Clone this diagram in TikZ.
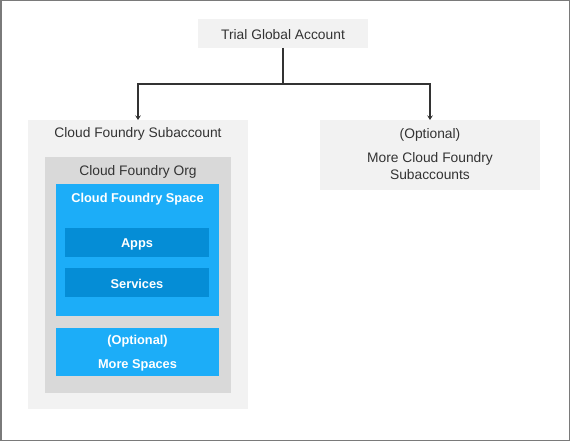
\documentclass[tikz,border=0pt]{standalone}
\usepackage{fontspec}
\setmainfont{Liberation Sans}
\usetikzlibrary{arrows.meta}
\definecolor{frame}{HTML}{7A7A7A}
\definecolor{lightbg}{HTML}{F2F2F2}
\definecolor{orgbg}{HTML}{D9D9D9}
\definecolor{spaceblue}{HTML}{1CADF8}
\definecolor{darkblue}{HTML}{058DD6}
\definecolor{txt}{HTML}{333333}
\definecolor{linec}{HTML}{333333}
\tikzset{
  box/.style={anchor=north west, inner sep=0pt, outer sep=0pt, draw=none},
  graytxt/.style={text=txt, font=\fontsize{13.8}{16}\selectfont, inner sep=0pt, anchor=center, yshift=-1.5pt},
  whitetxt/.style={text=white, font=\fontsize{12.8}{15}\bfseries\selectfont, inner sep=0pt, anchor=center, yshift=-1.2pt},
  conn/.style={draw=linec, line width=1.8pt, -{Stealth[length=4.5pt,width=5.5pt]}},
}
\begin{document}
\begin{tikzpicture}[x=1pt,y=-1pt]
\useasboundingbox (0,0) rectangle (570,441);
\fill[white] (0,0) rectangle (570,441);
\draw[frame, line width=1.5pt] (0.75,0.75) rectangle (569.25,440.25);

% Trial global account
\node[box, fill=lightbg, minimum width=170pt, minimum height=29pt] (tga) at (198,19) {};
\node[graytxt] (tgat) at (283,33.5) {Trial Global Account};

% Subaccount
\node[box, fill=lightbg, minimum width=220pt, minimum height=289pt] (sub) at (28,120) {};
\node[graytxt] (subt) at (138,132) {Cloud Foundry Subaccount};

% More subaccounts
\node[box, fill=lightbg, minimum width=220pt, minimum height=70pt] (more) at (320,120) {};
\node[graytxt] (moret1) at (430,133) {(Optional)};
\node[graytxt] (moret2) at (430,157) {More Cloud Foundry};
\node[graytxt] (moret3) at (430,173) {Subaccounts};

% Org
\node[box, fill=orgbg, minimum width=186pt, minimum height=236pt] (org) at (45,157) {};
\node[graytxt] (orgt) at (138,170) {Cloud Foundry Org};

% Space
\node[box, fill=spaceblue, minimum width=163pt, minimum height=132pt] (space) at (56,184) {};
\node[whitetxt] (spacet) at (137.5,197.5) {Cloud Foundry Space};

\node[box, fill=darkblue, minimum width=144pt, minimum height=29pt] (apps) at (65,228) {};
\node[whitetxt] (appst) at (137,243) {Apps};
\node[box, fill=darkblue, minimum width=144pt, minimum height=29pt] (serv) at (65,268) {};
\node[whitetxt] (servt) at (137,282.5) {Services};

% More spaces
\node[box, fill=spaceblue, minimum width=163pt, minimum height=48pt] (mspace) at (56,328) {};
\node[whitetxt] (mspacet1) at (137.5,340) {(Optional)};
\node[whitetxt] (mspacet2) at (137.5,364) {More Spaces};

% connectors
\coordinate (j) at (283,83.7);
\draw[draw=linec, line width=1.8pt] (tga.south) -- (j);
\draw[conn] (j) -| (sub.north);
\draw[conn] (j) -| (more.north);
\end{tikzpicture}
\end{document}
